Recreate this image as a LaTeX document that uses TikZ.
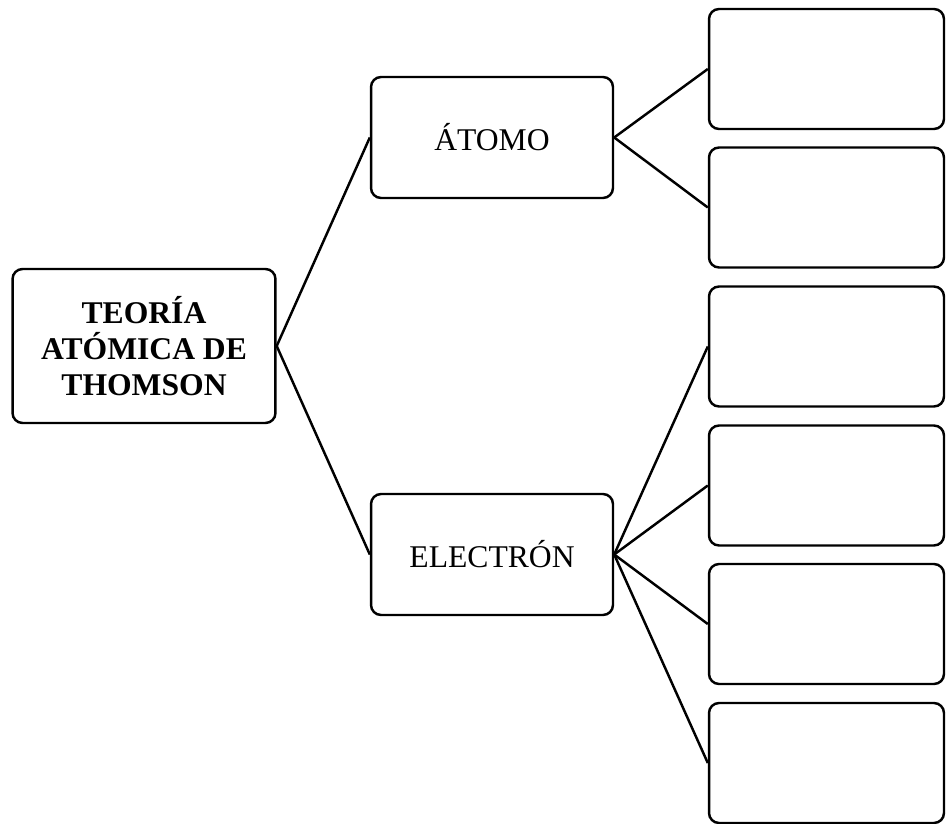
\documentclass[tikz,border=0pt]{standalone}
\usepackage{fontspec}
\setmainfont{Liberation Serif}
\usepackage{tikz}

\begin{document}
\begin{tikzpicture}[x=0.02cm,y=-0.02cm,
  caja/.style={draw, line width=1.4pt, rounded corners=0.2cm, inner sep=0pt,
    align=center, font=\fontsize{18}{20.7}\selectfont},
  raiz/.style={caja, minimum width=5.26cm, minimum height=3.08cm,
    font=\fontsize{18}{20.7}\selectfont\bfseries},
  tema/.style={caja, minimum width=4.84cm, minimum height=2.42cm},
  hoja/.style={caja, minimum width=4.7cm, minimum height=2.4cm},
  rama/.style={line width=1.4pt}]
  \useasboundingbox (0,0) rectangle (946,824);

  % concepto central
  \node[raiz] (teoria) at (144,346) {TEORÍA\\ATÓMICA DE\\THOMSON};

  % subtemas
  \node[tema] (atomo) at (492,137.5) {ÁTOMO};
  \node[tema] (electron) at (492,554.5) {ELECTRÓN};

  % cajas vacias de la derecha
  \node[hoja] (a1) at (826.5,69) {};
  \node[hoja] (a2) at (826.5,207.5) {};
  \node[hoja] (e1) at (826.5,346.5) {};
  \node[hoja] (e2) at (826.5,485.5) {};
  \node[hoja] (e3) at (826.5,624) {};
  \node[hoja] (e4) at (826.5,763) {};

  % ramas
  \draw[rama] (teoria.east) -- (atomo.west);
  \draw[rama] (teoria.east) -- (electron.west);
  \draw[rama] (atomo.east) -- (a1.west);
  \draw[rama] (atomo.east) -- (a2.west);
  \draw[rama] (electron.east) -- (e1.west);
  \draw[rama] (electron.east) -- (e2.west);
  \draw[rama] (electron.east) -- (e3.west);
  \draw[rama] (electron.east) -- (e4.west);
\end{tikzpicture}
\end{document}
